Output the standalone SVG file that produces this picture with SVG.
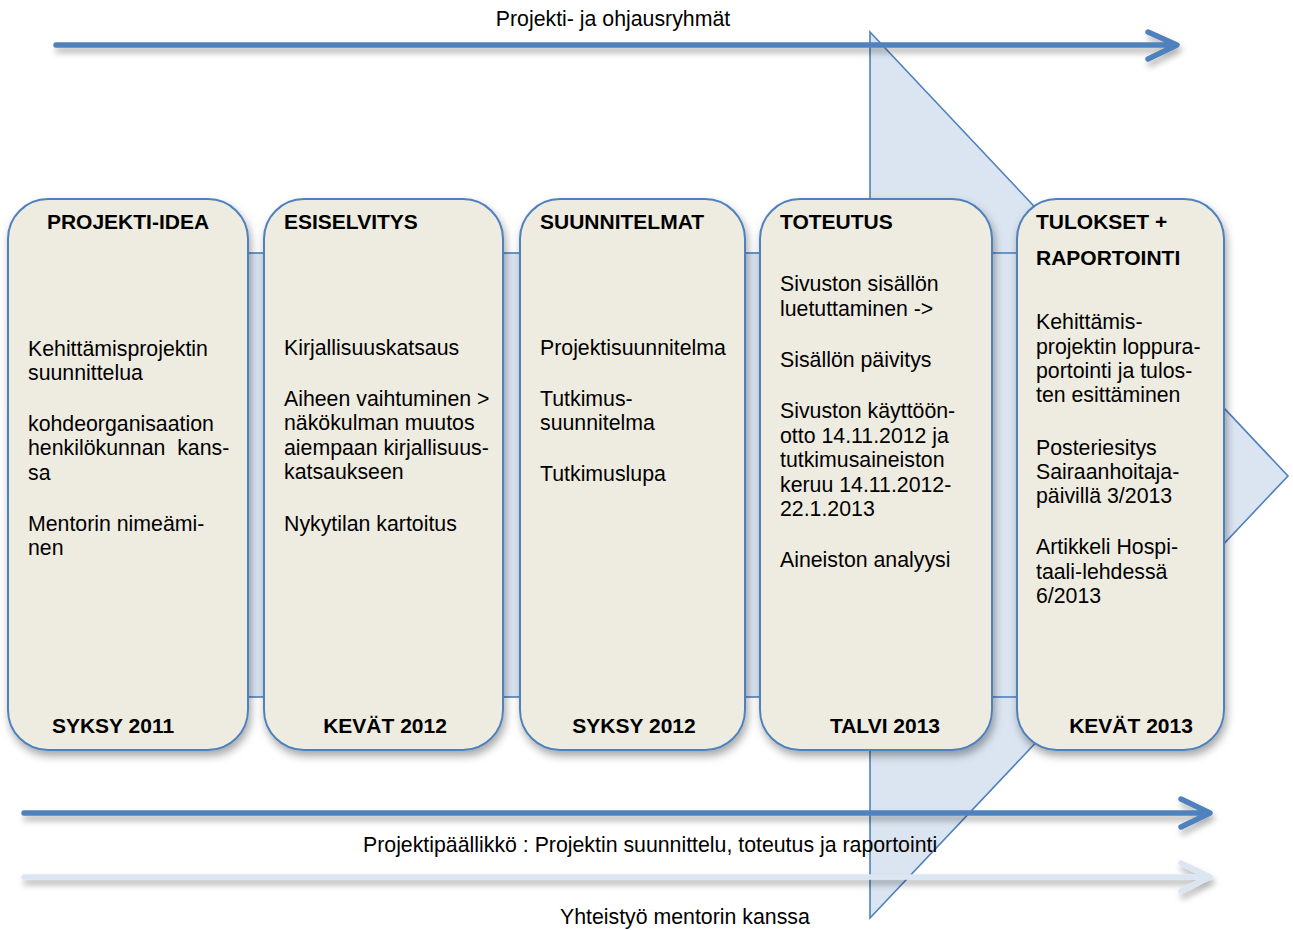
<svg xmlns="http://www.w3.org/2000/svg" width="1293" height="930" viewBox="0 0 1293 930">
<style>
  text { font-family: "Liberation Sans", Arial, sans-serif; fill: #000; }
  .t { font-size: 21px; font-weight: bold; }
  .b { font-size: 21.3px; }
  .box { fill: #eeece1; stroke: #4f81bd; stroke-width: 2; filter: url(#sh); }
  .bg { fill: #dbe5f1; stroke: #4f81bd; stroke-width: 1.6; }
  .arr { fill: none; stroke-width: 5.5; stroke-linecap: round; stroke-linejoin: round; filter: url(#sh2); }
</style>
<defs>
  <filter id="sh" x="-10%" y="-10%" width="130%" height="130%">
    <feDropShadow dx="2" dy="5" stdDeviation="4" flood-color="#000" flood-opacity="0.35"/>
  </filter>
  <filter id="sh2" x="-5%" y="-100%" width="110%" height="400%">
    <feDropShadow dx="2" dy="5" stdDeviation="3" flood-color="#000" flood-opacity="0.3"/>
  </filter>
</defs>
<rect width="1293" height="930" fill="#fff"/>

<g id="background">
  <polygon class="bg" points="870,32 1288,476 870,918"/>
  <rect class="bg" x="240" y="253" width="790" height="444"/>
</g>

<g id="connectors">
  <path class="arr" stroke="#4f81bd" d="M56,45 H1176 M1148,32 L1177,45 L1148,59"/>
  <path class="arr" stroke="#4f81bd" d="M24,813 H1208 M1181,799 L1210,813 L1181,827"/>
  <path class="arr" stroke="#dce6f2" d="M24,877 H1208 M1181,863 L1210,877 L1181,891"/>
</g>

<g id="labels">
  <text class="b" x="613" y="26" text-anchor="middle">Projekti- ja ohjausryhmät</text>
  <text class="b" x="363" y="852">Projektipäällikkö : Projektin suunnittelu, toteutus ja raportointi</text>
  <text class="b" x="560" y="924">Yhteistyö mentorin kanssa</text>
</g>

<g id="node1">
  <rect class="box" x="8" y="199" width="240" height="551" rx="40"/>
  <text class="t" x="128" y="229" text-anchor="middle">PROJEKTI-IDEA</text>
  <text class="b" x="28" y="356">Kehittämisprojektin</text>
  <text class="b" x="28" y="380">suunnittelua</text>
  <text class="b" x="28" y="431">kohdeorganisaation</text>
  <text class="b" x="28" y="455" xml:space="preserve">henkilökunnan  kans-</text>
  <text class="b" x="28" y="480">sa</text>
  <text class="b" x="28" y="531">Mentorin nimeämi-</text>
  <text class="b" x="28" y="555">nen</text>
  <text class="t" x="113" y="733" text-anchor="middle">SYKSY 2011</text>
</g>

<g id="node2">
  <rect class="box" x="264" y="199" width="239" height="551" rx="40"/>
  <text class="t" x="284" y="229">ESISELVITYS</text>
  <text class="b" x="284" y="355">Kirjallisuuskatsaus</text>
  <text class="b" x="284" y="406">Aiheen vaihtuminen &gt;</text>
  <text class="b" x="284" y="430">näkökulman muutos</text>
  <text class="b" x="284" y="455">aiempaan kirjallisuus-</text>
  <text class="b" x="284" y="479">katsaukseen</text>
  <text class="b" x="284" y="531">Nykytilan kartoitus</text>
  <text class="t" x="385" y="733" text-anchor="middle">KEVÄT 2012</text>
</g>

<g id="node3">
  <rect class="box" x="520" y="199" width="225" height="551" rx="40"/>
  <text class="t" x="540" y="229">SUUNNITELMAT</text>
  <text class="b" x="540" y="355">Projektisuunnitelma</text>
  <text class="b" x="540" y="406">Tutkimus-</text>
  <text class="b" x="540" y="430">suunnitelma</text>
  <text class="b" x="540" y="481">Tutkimuslupa</text>
  <text class="t" x="634" y="733" text-anchor="middle">SYKSY 2012</text>
</g>

<g id="node4">
  <rect class="box" x="760" y="199" width="232" height="551" rx="40"/>
  <text class="t" x="780" y="229">TOTEUTUS</text>
  <text class="b" x="780" y="291">Sivuston sisällön</text>
  <text class="b" x="780" y="316">luetuttaminen -&gt;</text>
  <text class="b" x="780" y="367">Sisällön päivitys</text>
  <text class="b" x="780" y="418">Sivuston käyttöön-</text>
  <text class="b" x="780" y="443">otto 14.11.2012 ja</text>
  <text class="b" x="780" y="467">tutkimusaineiston</text>
  <text class="b" x="780" y="492">keruu 14.11.2012-</text>
  <text class="b" x="780" y="516">22.1.2013</text>
  <text class="b" x="780" y="567">Aineiston analyysi</text>
  <text class="t" x="885" y="733" text-anchor="middle">TALVI 2013</text>
</g>

<g id="node5">
  <rect class="box" x="1017" y="199" width="207" height="551" rx="40"/>
  <text class="t" x="1036" y="229">TULOKSET +</text>
  <text class="t" x="1036" y="265">RAPORTOINTI</text>
  <text class="b" x="1036" y="329">Kehittämis-</text>
  <text class="b" x="1036" y="354">projektin loppura-</text>
  <text class="b" x="1036" y="378">portointi ja tulos-</text>
  <text class="b" x="1036" y="402">ten esittäminen</text>
  <text class="b" x="1036" y="455">Posteriesitys</text>
  <text class="b" x="1036" y="479">Sairaanhoitaja-</text>
  <text class="b" x="1036" y="503">päivillä 3/2013</text>
  <text class="b" x="1036" y="554">Artikkeli Hospi-</text>
  <text class="b" x="1036" y="579">taali-lehdessä</text>
  <text class="b" x="1036" y="603">6/2013</text>
  <text class="t" x="1131" y="733" text-anchor="middle">KEVÄT 2013</text>
</g>
</svg>
